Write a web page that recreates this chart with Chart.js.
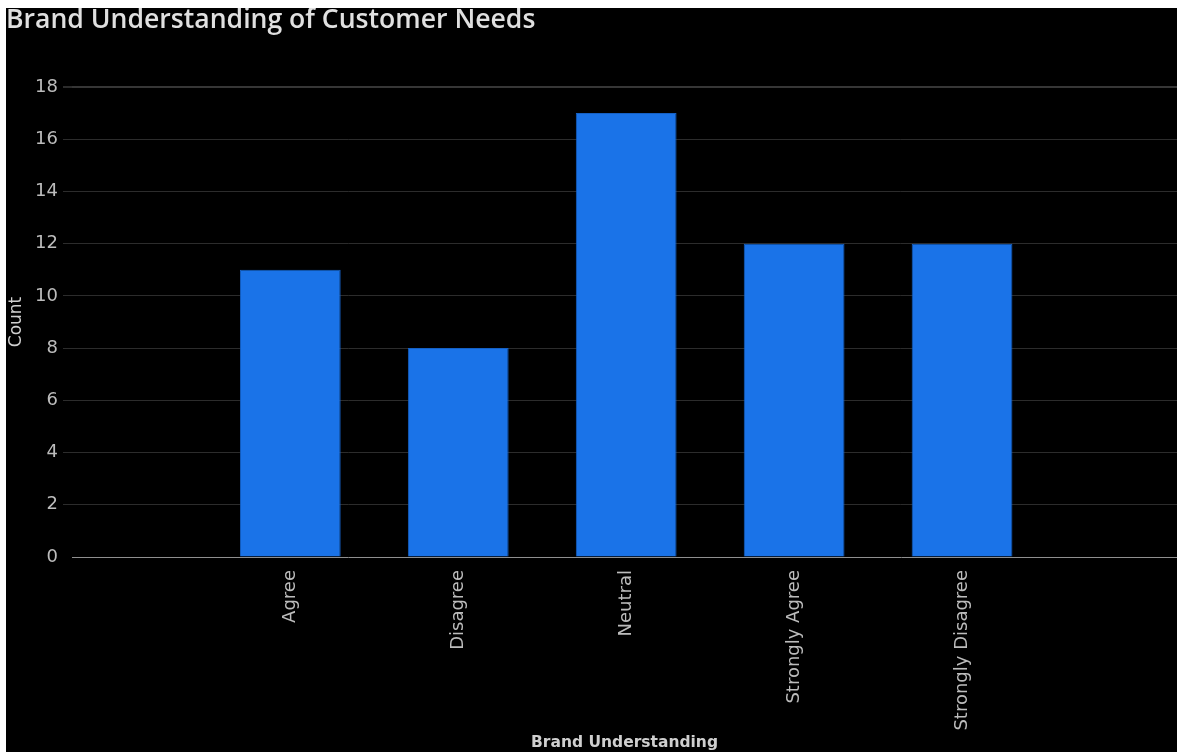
<!DOCTYPE html>
<html>
<head>
<meta charset="utf-8">
<script src="https://cdn.jsdelivr.net/npm/chart.js@4"></script>
<style>
  html, body { margin: 0; padding: 0; background: #fff; }
  #wrap { position: absolute; left: 6px; top: 8px; width: 1171px; height: 744px; background: #000; }
</style>
</head>
<body>
<div id="wrap"><canvas id="brandChart"></canvas></div>
<script>
const categories = ['Agree', 'Disagree', 'Neutral', 'Strongly Agree', 'Strongly Disagree'];
const counts = [11, 8, 17, 12, 12];
const yTicks = [0, 2, 4, 6, 8, 10, 12, 14, 16, 18];

const ctx = document.getElementById('brandChart').getContext('2d');
const font = 'DejaVu Sans';

new Chart(ctx, {
  type: 'bar',
  data: {
    datasets: [{
      label: 'Count',
      data: categories.map((c, i) => ({ x: i, y: counts[i] })),
      backgroundColor: '#1a73e8',
      borderColor: '#1560c4',
      borderWidth: 1,
      categoryPercentage: 1,
      barPercentage: 0.6
    }]
  },
  options: {
    responsive: true,
    maintainAspectRatio: false,
    animation: false,
    plugins: {
      legend: { display: false },
      tooltip: { enabled: false },
      title: {
        display: true,
        text: 'Brand Understanding of Customer Needs',
        align: 'start',
        color: '#e0e0e0',
        font: { family: 'Open Sans', size: 26.6, weight: '600', lineHeight: 1 },
        padding: { top: -1, bottom: 53.4 }
      }
    },
    scales: {
      x: {
        type: 'linear',
        offset: false,
        min: -1.3,
        max: 5.28,
        afterBuildTicks: s => { s.ticks = categories.map((c, i) => ({ value: i })); },
        afterFit: s => { s.height = 195; },
        grid: { display: false, drawTicks: false, tickLength: 0 },
        border: { display: true, color: '#8f8f8f' },
        ticks: {
          color: '#bcbcbc',
          font: { family: font, size: 18 },
          padding: 13,
          minRotation: 90,
          maxRotation: 90,
          autoSkip: false,
          callback: v => categories[v]
        },
        title: {
          display: true,
          text: 'Brand Understanding',
          color: '#cfcfcf',
          font: { family: font, size: 15.5, weight: '600' },
          padding: { top: 4, bottom: 0 }
        }
      },
      y: {
        min: 0,
        max: 18,
        afterBuildTicks: s => { s.ticks = yTicks.map(v => ({ value: v })); },
        afterFit: s => { s.width = 66; },
        border: { display: false },
        grid: {
          color: c => {
            if (!c.tick || c.tick.value === 0) return 'rgba(0,0,0,0)';
            return c.tick.value === 18 ? '#363636' : '#2c2c2c';
          },
          lineWidth: c => c.tick && c.tick.value === 18 ? 2 : 1,
          tickColor: c => c.tick && c.tick.value === 0 ? 'rgba(0,0,0,0)' : '#2c2c2c',
          tickLength: 9
        },
        ticks: {
          color: '#bcbcbc',
          font: { family: font, size: 18 },
          padding: 5
        },
        title: {
          display: true,
          text: 'Count',
          color: '#cfcfcf',
          font: { family: font, size: 17 },
          padding: { top: 0, bottom: 0 }
        }
      }
    }
  }
});
</script>
</body>
</html>
